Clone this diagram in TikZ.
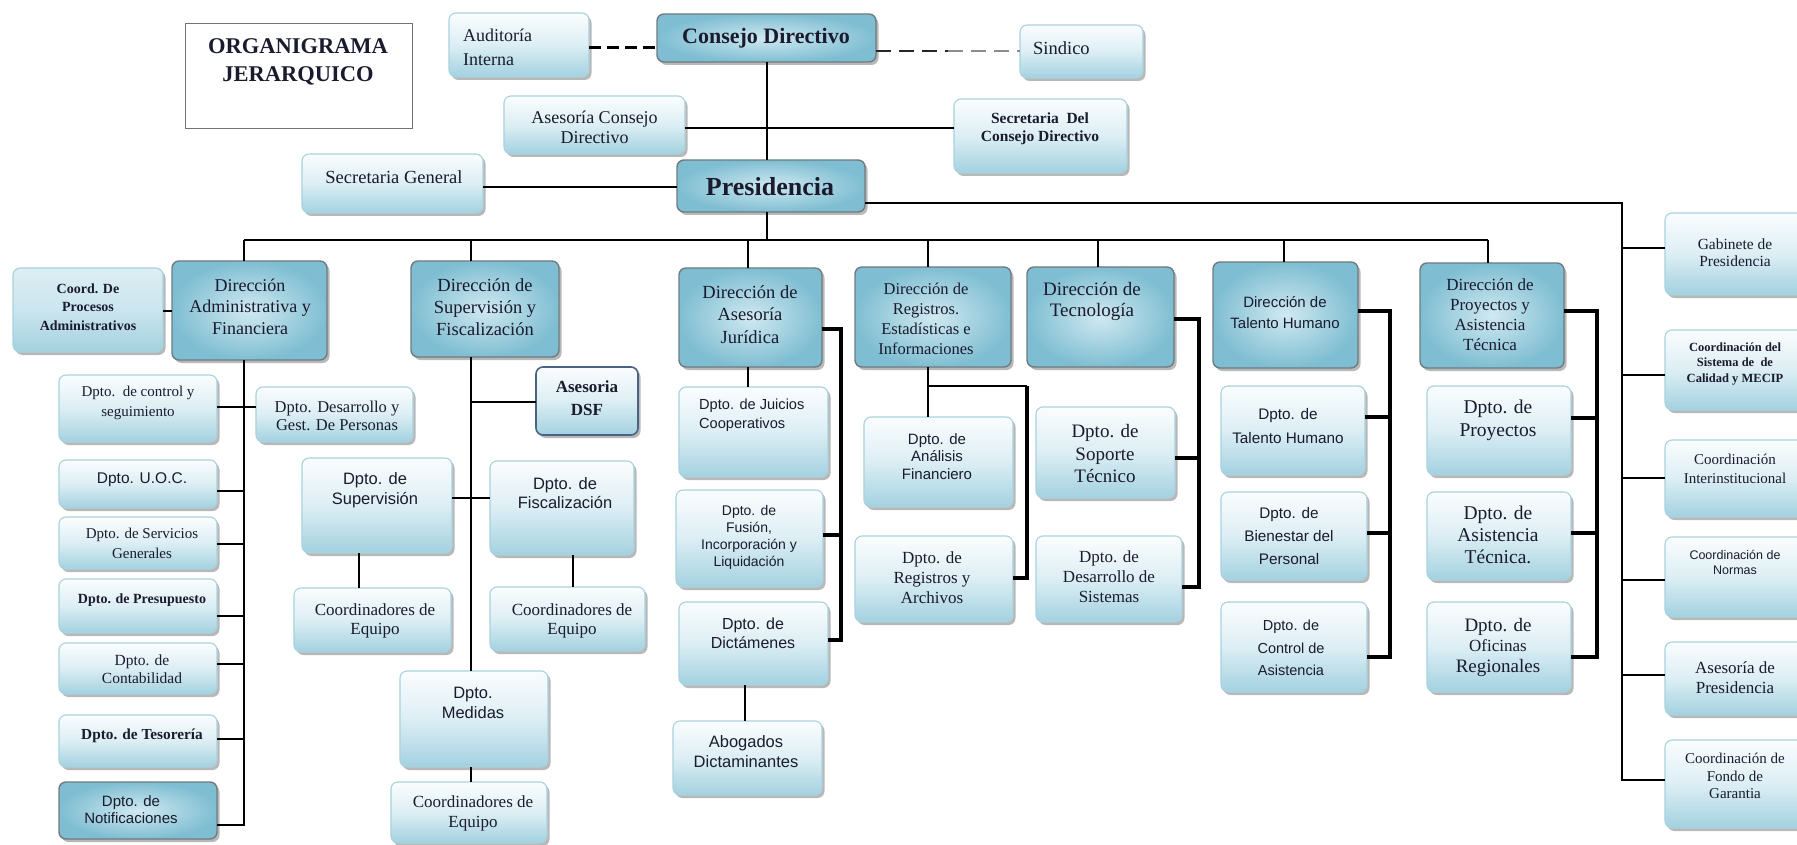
\documentclass[tikz,border=0pt]{standalone}
\usepackage{fontspec}
\setmainfont{Liberation Serif}
\setsansfont{Liberation Sans}
\usetikzlibrary{shadows}

\definecolor{ink}{HTML}{1A1B2E}
\definecolor{dirin}{HTML}{D0E9F1}
\definecolor{dirout}{HTML}{7FBED2}
\definecolor{dirline}{HTML}{6F7B80}
\definecolor{lttop}{HTML}{FBFDFE}
\definecolor{ltmid}{HTML}{DCEEF4}
\definecolor{ltbot}{HTML}{A3D1E0}
\definecolor{ltline}{HTML}{A9D2DE}
\definecolor{dsfline}{HTML}{4A6283}

% font size helper
\newcommand\fsz[2]{\fontsize{#1}{#2}\selectfont}
% box from its corners: style, name, x1, y1, x2, y2
\newcommand\bx[6]{\node[#1, minimum width={(#5)-(#3)}, minimum height={(#6)-(#4)}] (#2) at ({((#3)+(#5))/2},{((#4)+(#6))/2}) {};}
% label: name, x, y, font, text
\newcommand\tx[5]{\node[lbl, font={#4}] (#1) at (#2,#3) {#5};}

\tikzset{
  shadowed/.style={drop shadow={shadow xshift=2.5pt, shadow yshift=-3pt, fill=black, opacity=0.28}},
  dirbox/.style={shadowed, rounded corners=7pt, draw=dirline, line width=1.4pt, inner sep=0pt, outer sep=0pt,
    inner color=dirin, outer color=dirout},
  ltbox/.style={shadowed, rounded corners=7pt, draw=ltline, line width=1.1pt, inner sep=0pt, outer sep=0pt,
    top color=lttop, bottom color=ltbot, middle color=ltmid},
  bluebox/.style={ltbox, top color=ltmid, bottom color=ltbot, middle color=ltmid!70!ltbot},
  dsfbox/.style={ltbox, draw=dsfline, line width=1.6pt},
  orgbox/.style={draw=black!55, line width=1pt, fill=white, inner sep=0pt, outer sep=0pt},
  lbl/.style={inner sep=0pt, text=ink, align=center},
  link/.style={draw=black, line width=2.8pt},
  linkthin/.style={draw=black, line width=2.2pt},
  linkheavy/.style={draw=black, line width=3.6pt, line join=miter},
  dashA/.style={draw=black, line width=3pt, dash pattern=on 12pt off 6pt},
  dashB/.style={draw=black!85, line width=2.6pt, dash pattern=on 15pt off 8pt},
  dashC/.style={draw=black!45, line width=1.6pt, dash pattern=on 15pt off 8pt},
}

\begin{document}
\begin{tikzpicture}[x=1pt,y=-1pt]
\useasboundingbox (0,0) rectangle (1797,845);
\clip (0,0) rectangle (1797,845);
\fill[white] (0,0) rectangle (1797,845);

% ---------- upper level ----------
\bx{orgbox}{org}{185}{24}{412}{129}
\tx{org-t}{298}{62}{\bfseries\fsz{22.5}{28}}{ORGANIGRAMA\\JERARQUICO}

\bx{ltbox}{aud}{449}{13}{589}{77}
\node[lbl, align=left, anchor=west, font=\fsz{18}{24}] (aud-t) at (463,47) {Auditoría\\Interna};

\bx{dirbox}{cd}{657}{14}{876}{62}
\tx{cd-t}{766}{38}{\bfseries\fsz{22}{26}}{Consejo Directivo}

\bx{ltbox}{sin}{1020}{25}{1143}{78}
\node[lbl, anchor=west, font=\fsz{18.5}{22}] (sin-t) at (1033,48) {Sindico};

\bx{ltbox}{acd}{504}{96}{685}{154}
\tx{acd-t}{594.5}{127.5}{\fsz{18}{20}}{Asesoría Consejo\\Directivo}

\bx{ltbox}{scd}{954}{99}{1127}{173}
\tx{scd-t}{1040}{129}{\bfseries\fsz{15.5}{18}}{Secretaria\ \ Del\\Consejo Directivo}

\bx{ltbox}{sg}{302}{154}{483}{213}
\tx{sg-t}{394}{177}{\fsz{18.5}{22}}{Secretaria General}

\bx{dirbox}{pres}{677}{160}{865}{212}
\tx{pres-t}{770}{187}{\bfseries\fsz{26}{30}}{Presidencia}

% ---------- directions ----------
\bx{bluebox}{cpa}{13}{268}{163}{352}
\tx{cpa-t}{88}{307}{\bfseries\fsz{14}{18.5}}{Coord. De\\Procesos\\Administrativos}

\bx{dirbox}{dadm}{172}{261}{327}{360}
\tx{dadm-t}{250}{306.5}{\fsz{18}{21.5}}{Dirección\\Administrativa y\\Financiera}

\bx{dirbox}{dsf}{411}{261}{559}{357}
\tx{dsf-t}{485}{307}{\fsz{18.5}{22}}{Dirección de\\Supervisión y\\Fiscalización}

\bx{dirbox}{daj}{679}{268}{822}{367}
\tx{daj-t}{750}{314.5}{\fsz{18.5}{22.5}}{Dirección de\\Asesoría\\Jurídica}

\bx{dirbox}{dre}{855}{267}{1011}{367}
\tx{dre-t}{926}{319}{\fsz{16.5}{20}}{Dirección de\\Registros.\\Estadísticas e\\Informaciones}

\bx{dirbox}{dte}{1027}{267}{1174}{367}
\tx{dte-t}{1092}{301.5}{\fsz{19}{21}}{Dirección de\\Tecnología}

\bx{dirbox}{dth}{1213}{262}{1358}{368}
\tx{dth-t}{1285}{312.5}{\sffamily\fsz{15}{21}}{Dirección de\\Talento Humano}

\bx{dirbox}{dpa}{1420}{263}{1564}{368}
\tx{dpa-t}{1490}{315}{\fsz{17}{20}}{Dirección de\\Proyectos y\\Asistencia\\Técnica}

% ---------- administrative column ----------
\bx{ltbox}{dcs}{59}{375}{217}{442}
\tx{dcs-t}{138}{403}{\fsz{15}{20}}{Dpto.\ \ de control y\\seguimiento}
\bx{ltbox}{ddp}{256}{387}{413}{442}
\tx{ddp-t}{337}{416}{\fsz{16.5}{18.5}}{Dpto. Desarrollo y\\Gest. De Personas}
\bx{ltbox}{uoc}{59}{460}{217}{508}
\tx{uoc-t}{142}{480}{\sffamily\fsz{15.5}{18}}{Dpto. U.O.C.}
\bx{ltbox}{dsg}{59}{517}{217}{569}
\tx{dsg-t}{142}{543}{\fsz{15}{20}}{Dpto. de Servicios\\Generales}
\bx{ltbox}{dpr}{59}{579}{217}{633}
\tx{dpr-t}{142}{600}{\bfseries\fsz{14}{17}}{Dpto. de Presupuesto}
\bx{ltbox}{dco}{59}{643}{217}{694}
\tx{dco-t}{142}{669}{\fsz{15.5}{18}}{Dpto. de\\Contabilidad}
\bx{ltbox}{dts}{59}{715}{217}{767}
\tx{dts-t}{142}{736}{\bfseries\fsz{15.3}{18}}{Dpto. de Tesorería}
\bx{dirbox}{dno}{59}{782}{217}{839}
\tx{dno-t}{131}{810}{\sffamily\fsz{15}{17}}{Dpto. de\\Notificaciones}

% ---------- supervision column ----------
\bx{dsfbox}{ads}{536}{367}{638}{435}
\tx{ads-t}{587}{398.5}{\bfseries\fsz{17}{23}}{Asesoria\\DSF}
\bx{ltbox}{dsu}{302}{458}{452}{553}
\tx{dsu-t}{375}{490}{\sffamily\fsz{16.5}{19.5}}{Dpto. de\\Supervisión}
\bx{ltbox}{dfi}{490}{461}{634}{555}
\tx{dfi-t}{565}{493}{\sffamily\fsz{16.5}{19.5}}{Dpto. de\\Fiscalización}
\bx{ltbox}{ce1}{294}{588}{451}{652}
\tx{ce1-t}{375}{621}{\fsz{17}{19}}{Coordinadores de\\Equipo}
\bx{ltbox}{ce2}{490}{587}{645}{651}
\tx{ce2-t}{572}{621}{\fsz{17}{19}}{Coordinadores de\\Equipo}
\bx{ltbox}{dme}{400}{671}{548}{767}
\tx{dme-t}{473}{703}{\sffamily\fsz{16.5}{20}}{Dpto.\\Medidas}
\bx{ltbox}{ce3}{391}{782}{547}{843}
\tx{ce3-t}{473}{813}{\fsz{17}{20}}{Coordinadores de\\Equipo}

% ---------- legal column ----------
\bx{ltbox}{djc}{679}{387}{828}{477}
\node[lbl, align=left, anchor=west, font=\sffamily\fsz{14.6}{19}] (djc-t) at (699,415.5) {Dpto. de Juicios\\Cooperativos};
\bx{ltbox}{dfu}{676}{490}{823}{587}
\tx{dfu-t}{749}{537.5}{\sffamily\fsz{14}{17}}{Dpto. de\\Fusión,\\Incorporación y\\Liquidación}
\bx{ltbox}{ddi}{679}{602}{828}{685}
\tx{ddi-t}{753}{633.5}{\sffamily\fsz{16}{19.5}}{Dpto. de\\Dictámenes}
\bx{ltbox}{abo}{673}{721}{822}{795}
\tx{abo-t}{746}{752}{\sffamily\fsz{16.5}{20}}{Abogados\\Dictaminantes}

% ---------- records column ----------
\bx{ltbox}{daf}{864}{417}{1013}{507}
\tx{daf-t}{937}{456.5}{\sffamily\fsz{15}{17.5}}{Dpto. de\\Análisis\\Financiero}
\bx{ltbox}{dra}{855}{536}{1013}{622}
\tx{dra-t}{932}{578}{\fsz{17}{20}}{Dpto. de\\Registros y\\Archivos}

% ---------- technology column ----------
\bx{ltbox}{dso}{1036}{407}{1175}{498}
\tx{dso-t}{1105}{453.5}{\fsz{19}{22.5}}{Dpto. de\\Soporte\\Técnico}
\bx{ltbox}{dds}{1036}{536}{1182}{622}
\tx{dds-t}{1109}{577}{\fsz{17}{20}}{Dpto. de\\Desarrollo de\\Sistemas}

% ---------- human talent column ----------
\bx{ltbox}{dtt}{1221}{386}{1365}{475}
\tx{dtt-t}{1288}{426}{\sffamily\fsz{15.3}{24}}{Dpto. de\\Talento Humano}
\bx{ltbox}{dbp}{1221}{492}{1367}{580}
\tx{dbp-t}{1289}{536}{\sffamily\fsz{15.3}{23}}{Dpto. de\\Bienestar del\\Personal}
\bx{ltbox}{dca}{1221}{602}{1367}{692}
\tx{dca-t}{1291}{648}{\sffamily\fsz{14.5}{22.5}}{Dpto. de\\Control de\\Asistencia}

% ---------- projects column ----------
\bx{ltbox}{dpy}{1427}{386}{1571}{475}
\tx{dpy-t}{1498}{420.5}{\fsz{19.5}{23}}{Dpto. de\\Proyectos}
\bx{ltbox}{dat}{1427}{492}{1571}{580}
\tx{dat-t}{1498}{535}{\fsz{19.5}{22}}{Dpto. de\\Asistencia\\Técnica.}
\bx{ltbox}{dor}{1427}{602}{1571}{692}
\tx{dor-t}{1498}{647}{\fsz{19}{20.5}}{Dpto. de\\{\fsz{17}{20.5}Oficinas}\\Regionales}

% ---------- presidency units ----------
\bx{ltbox}{gab}{1665}{213}{1805}{295}
\tx{gab-t}{1735}{252.5}{\fsz{15.5}{17.5}}{Gabinete de\\Presidencia}
\bx{ltbox}{csc}{1665}{330}{1805}{410}
\tx{csc-t}{1735}{364}{\bfseries\fsz{12.5}{15.5}}{Coordinación del\\Sistema de\ \ de\\Calidad y MECIP}
\bx{ltbox}{cin}{1665}{440}{1805}{517}
\tx{cin-t}{1735}{468.5}{\fsz{15}{19}}{Coordinación\\Interinstitucional}
\bx{ltbox}{cno}{1665}{537}{1805}{617}
\tx{cno-t}{1735}{562.5}{\sffamily\fsz{12.5}{15}}{Coordinación de\\Normas}
\bx{ltbox}{ape}{1665}{642}{1805}{715}
\tx{ape-t}{1735}{678}{\fsz{17}{20}}{Asesoría de\\Presidencia}
\bx{ltbox}{cfg}{1665}{740}{1805}{828}
\tx{cfg-t}{1735}{776}{\fsz{15}{17.5}}{Coordinación de\\Fondo de\\Garantia}

% ---------- joints ----------
\coordinate (d1) at (620,48);
\coordinate (d2) at (948,51);
\coordinate (m1) at (800,128);
\coordinate (g1) at (560,187);
\coordinate (c0) at (767,240);
\coordinate (s0) at (1622,203);
\coordinate (s1) at (1622,780);
\coordinate (b-l) at (244,240);
\coordinate (b-r) at (1488,240);
\coordinate (b-sf) at (471,240);
\coordinate (b-aj) at (748,240);
\coordinate (b-re) at (928,240);
\coordinate (b-te) at (1098,240);
\coordinate (b-th) at (1284,240);
\coordinate (k1) at (168,311);
\coordinate (a1) at (244,825);
\coordinate (ac1) at (244,407);
\coordinate (ac2) at (244,491);
\coordinate (ac3) at (244,544);
\coordinate (ac4) at (244,616);
\coordinate (ac5) at (244,664);
\coordinate (ac6) at (244,739);
\coordinate (v1) at (471,402);
\coordinate (v2) at (471,498);
\coordinate (v3) at (359,560);
\coordinate (v4) at (573,560);
\coordinate (j5) at (745,700);
\coordinate (aj1) at (841,329);
\coordinate (aj2) at (841,640);
\coordinate (aj3) at (841,535);
\coordinate (r1) at (928,386);
\coordinate (r2) at (1027,386);
\coordinate (r3) at (1027,578);
\coordinate (t1) at (1199,319);
\coordinate (t2) at (1199,587);
\coordinate (t3) at (1199,458);
\coordinate (h1) at (1390,311);
\coordinate (h2) at (1390,657);
\coordinate (h3) at (1390,417);
\coordinate (h4) at (1390,533);
\coordinate (p1) at (1597,311);
\coordinate (p2) at (1597,657);
\coordinate (p3) at (1597,418);
\coordinate (p4) at (1597,533);
\coordinate (sg1) at (1622,248);
\coordinate (sg2) at (1622,375);
\coordinate (sg3) at (1622,478);
\coordinate (sg4) at (1622,580);
\coordinate (sg5) at (1622,675);

% ---------- upper connectors ----------
\draw[dashA] (aud.east |- d1) -- (cd.west |- d1);
\draw[dashB] (cd.east |- d2) -- (d2);
\draw[dashC] (d2) -- (sin.west |- d2);
\draw[link] (cd.south -| c0) -- (pres.north -| c0);
\draw[linkthin] (acd.east |- m1) -- (scd.west |- m1);
\draw[link] (sg.east |- g1) -- (pres.west |- g1);
\draw[link] (pres.south -| c0) -- (c0);

% main bus and drops
\draw[link] (b-l) -- (b-r);
\draw[link] (b-l) -- (dadm.north -| b-l);
\draw[link] (b-sf) -- (dsf.north -| b-sf);
\draw[link] (b-aj) -- (daj.north -| b-aj);
\draw[link] (b-re) -- (dre.north -| b-re);
\draw[link] (b-te) -- (dte.north -| b-te);
\draw[link] (b-th) -- (dth.north -| b-th);
\draw[link] (b-r) -- (dpa.north -| b-r);

% presidency units spine
\draw[link] (pres.east |- s0) -- (s0) -- (s1) -- (cfg.west |- s1);
\draw[link] (sg1) -- (gab.west |- sg1);
\draw[link] (sg2) -- (csc.west |- sg2);
\draw[link] (sg3) -- (cin.west |- sg3);
\draw[link] (sg4) -- (cno.west |- sg4);
\draw[link] (sg5) -- (ape.west |- sg5);

% administrative column
\draw[link] (cpa.east |- k1) -- (dadm.west |- k1);
\draw[link] (dadm.south -| b-l) -- (a1) -- (dno.east |- a1);
\draw[link] (dcs.east |- ac1) -- (ddp.west |- ac1);
\draw[link] (uoc.east |- ac2) -- (ac2);
\draw[link] (dsg.east |- ac3) -- (ac3);
\draw[link] (dpr.east |- ac4) -- (ac4);
\draw[link] (dco.east |- ac5) -- (ac5);
\draw[link] (dts.east |- ac6) -- (ac6);

% supervision column
\draw[link] (dsf.south -| b-sf) -- (dme.north -| b-sf);
\draw[link] (dme.south -| b-sf) -- (ce3.north -| b-sf);
\draw[link] (v1) -- (ads.west |- v1);
\draw[link] (dsu.east |- v2) -- (dfi.west |- v2);
\draw[link] (dsu.south -| v3) -- (ce1.north -| v3);
\draw[link] (dfi.south -| v4) -- (ce2.north -| v4);

% legal column
\draw[linkthin] (daj.south -| b-aj) -- (djc.north -| b-aj);
\draw[linkheavy] (daj.east |- aj1) -- (aj1) -- (aj2) -- (ddi.east |- aj2);
\draw[linkheavy] (dfu.east |- aj3) -- (aj3);
\draw[link] (ddi.south -| j5) -- (abo.north -| j5);

% records column
\draw[link] (dre.south -| r1) -- (daf.north -| r1);
\draw[linkthin] (r1) -- (r2);
\draw[linkheavy] (r2) -- (r3) -- (dra.east |- r3);

% technology column
\draw[linkheavy] (dte.east |- t1) -- (t1) -- (t2) -- (dds.east |- t2);
\draw[linkheavy] (dso.east |- t3) -- (t3);

% human talent column
\draw[linkheavy] (dth.east |- h1) -- (h1) -- (h2) -- (dca.east |- h2);
\draw[linkheavy] (dtt.east |- h3) -- (h3);
\draw[linkheavy] (dbp.east |- h4) -- (h4);

% projects column
\draw[linkheavy] (dpa.east |- p1) -- (p1) -- (p2) -- (dor.east |- p2);
\draw[linkheavy] (dpy.east |- p3) -- (p3);
\draw[linkheavy] (dat.east |- p4) -- (p4);
\end{tikzpicture}
\end{document}
